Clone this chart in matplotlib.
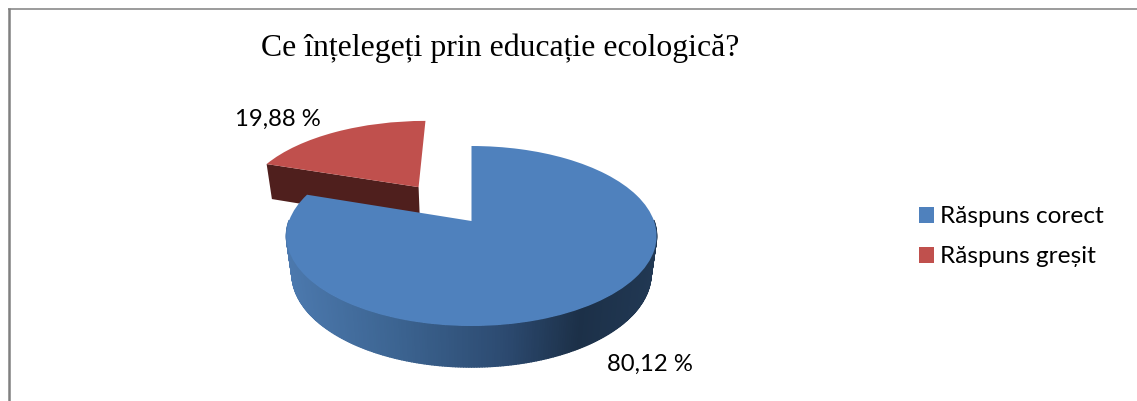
import numpy as np
import matplotlib
matplotlib.use('Agg')
import matplotlib.pyplot as plt
from matplotlib.collections import PolyCollection
from matplotlib.colors import LinearSegmentedColormap
from matplotlib.transforms import Transform

title = 'Ce înțelegeți prin educație ecologică?'
categories = ['Răspuns corect', 'Răspuns greșit']
values = [80.12, 19.88]
value_labels = ['80,12 %', '19,88 %']
colors = ['#4f81bd', '#c0504d']

SLICE_OFFSET = 0.51


class Persp(Transform):
    # unit pie plane -> pixels, seen in perspective; e, d move the plane down for the pie bottom
    input_dims = 2
    output_dims = 2
    is_affine = False
    has_inverse = False

    def __init__(self, e=0.0, d=0.0, dx=0.0):
        super().__init__()
        self.e = e
        self.d = d
        self.dx = dx

    def transform_non_affine(self, values):
        values = np.asarray(values, dtype=float)
        u, v = values[:, 0], values[:, 1]
        w = 1 + 0.1667 * v + self.e
        return np.column_stack([471.5 + self.dx + 182.5 * u / w, 221 + (self.d - 87.5 * v) / w])


top = Persp()
bottom = Persp(0.03, 38.6)
top_small = Persp(dx=-2)
bottom_small = Persp(0.03, 38.6, dx=-2)

fig = plt.figure(figsize=(11.37, 4.01), dpi=100)
ax = fig.add_axes([0, 0, 1, 1])
wedges, _ = ax.pie(values, colors=colors, startangle=90, counterclock=False,
                   explode=[0, SLICE_OFFSET], wedgeprops={'linewidth': 0})
ax.set_aspect('auto')
ax.set_xlim(0, 1137)
ax.set_ylim(401, 0)
ax.axis('off')
wedges[0].set_transform(top + ax.transData)
wedges[0].set_zorder(3)
wedges[1].set_transform(top_small + ax.transData)
wedges[1].set_zorder(2)

# side of the big slice, dark towards the right
shade = LinearSegmentedColormap.from_list('side', [(0, '#4c79ae'), (0.3, '#3c6491'), (0.6, '#2c4a70'),
                                                   (0.8, '#1c3048'), (1, '#213853')])
split = 360 * values[0] / sum(values)
theta = np.radians(90 - np.linspace(0, split, 400))
arc = np.column_stack([np.cos(theta), np.sin(theta)])
a_top, a_bot = top.transform(arc), bottom.transform(arc)
strips, shades = [], []
for i in range(len(arc) - 1):
    if arc[i, 1] > 0 and arc[i + 1, 1] > 0:
        continue
    strips.append([a_top[i], a_top[i + 1], a_bot[i + 1], a_bot[i]])
    shades.append((a_top[i, 0] - 287) / 370)
strips, shades = strips[::-1], shades[::-1]
ax.add_collection(PolyCollection(strips, facecolors=shade(np.array(shades)), edgecolors='face',
                                 linewidths=1.0, zorder=2.5))

# cut face of the small slice
mid = np.radians(90 - split - 360 * values[1] / sum(values) / 2)
apex = SLICE_OFFSET * np.array([np.cos(mid), np.sin(mid)])
corner = apex + [np.cos(np.radians(90 - split)), np.sin(np.radians(90 - split))]
face = np.array([apex, corner])
f_top, f_bot = top_small.transform(face), bottom_small.transform(face)
ax.add_collection(PolyCollection([[f_top[0], f_top[1], f_bot[1], f_bot[0]]],
                                 facecolors='#4f1f1d', edgecolors='none', zorder=1.5))

# frame of the picture: only left and top
ax.plot([9, 9], [401, 8], color='#808080', linewidth=1.8, solid_capstyle='butt')
ax.plot([8, 1137], [8.7, 8.7], color='#808080', linewidth=1.1, solid_capstyle='butt')

ax.text(261, 56, title, family='Liberation Serif', fontsize=22.9, color='black', ha='left', va='baseline')
ax.text(235, 126, value_labels[1], family='Lato', fontsize=17.2, color='black', ha='left', va='baseline')
ax.text(607, 371, value_labels[0], family='Lato', fontsize=17.2, color='black', ha='left', va='baseline')

ax.legend(wedges, categories, loc='upper left', bbox_to_anchor=(912 / 1137, 1 - 199 / 401), frameon=False,
          prop={'family': 'Lato', 'size': 17.6}, handlelength=0.61, handleheight=0.61, handletextpad=0.25,
          labelspacing=0.78, borderpad=0.3, borderaxespad=0)

fig.savefig('out.png', dpi=100)
plt.close()
